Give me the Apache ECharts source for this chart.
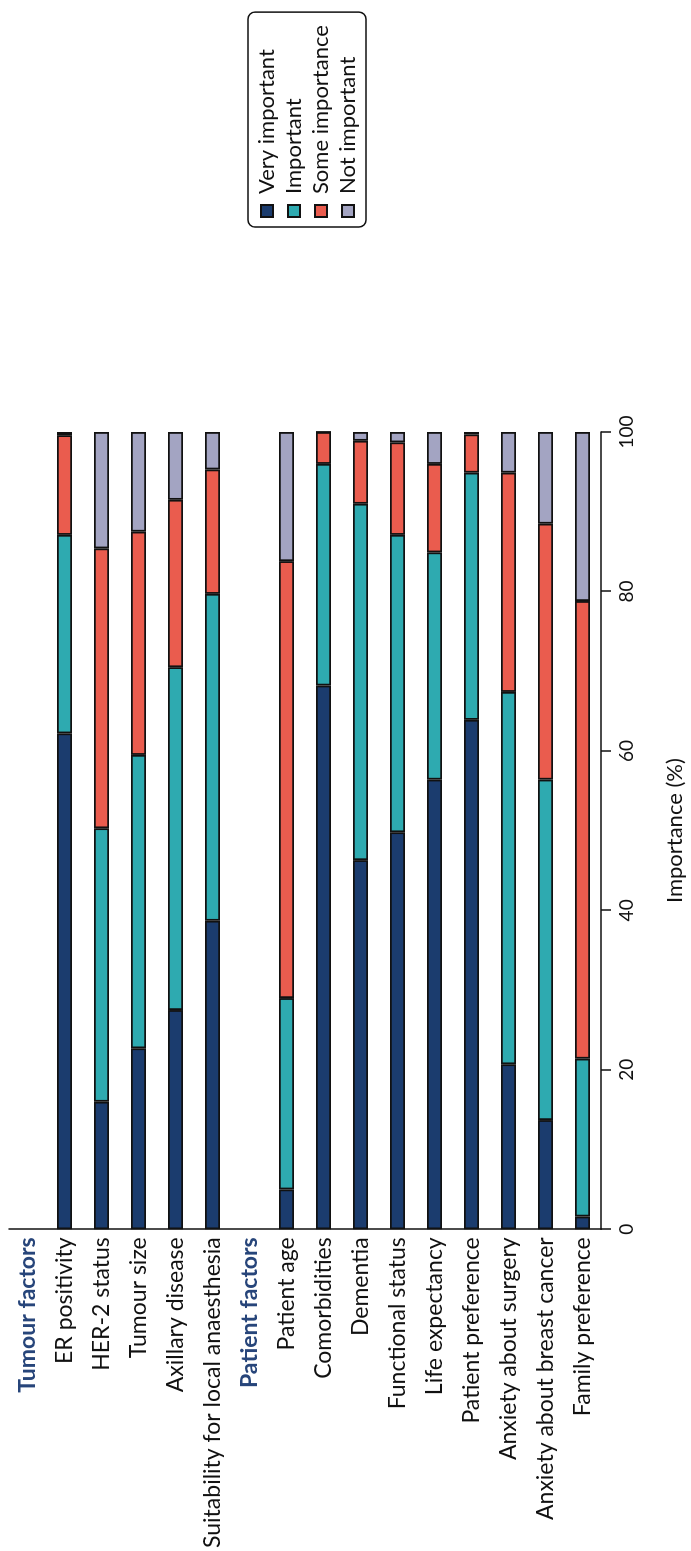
<!DOCTYPE html>
<html>
<head>
<meta charset="utf-8">
<script src="https://cdn.jsdelivr.net/npm/echarts@6/dist/echarts.min.js"></script>
<style>
html, body { margin: 0; padding: 0; background: #fff; overflow: hidden; width: 691px; height: 1551px; }
#wrap { position: absolute; left: 0; top: 0; width: 1551px; height: 691px;
  transform-origin: 0 0; transform: translate(0, 1551px) rotate(-90deg); }
</style>
</head>
<body>
<div id="wrap"></div>
<script>
const categories = ['Tumour factors', 'ER positivity', 'HER-2 status', 'Tumour size', 'Axillary disease',
  'Suitability for local anaesthesia', 'Patient factors', 'Patient age', 'Comorbidities', 'Dementia',
  'Functional status', 'Life expectancy', 'Patient preference', 'Anxiety about surgery',
  'Anxiety about breast cancer', 'Family preference'];
const headers = ['Tumour factors', 'Patient factors'];
const seriesNames = ['Very important', 'Important', 'Some importance', 'Not important'];
const veryImportant = [null, 62.2, 16.0, 22.7, 27.5, 38.7, null, 5.0, 68.2, 46.3, 49.8, 56.4, 63.9, 20.7, 13.7, 1.6];
const important     = [null, 24.9, 34.3, 36.8, 43.0, 41.0, null, 24.0, 27.8, 44.7, 37.3, 28.5, 31.0, 46.7, 42.7, 19.8];
const someImportance= [null, 12.5, 35.1, 28.0, 21.0, 15.6, null, 54.8, 4.0, 7.9, 11.6, 11.1, 4.8, 27.5, 32.1, 57.4];
const notImportant  = [null, 0.4, 14.6, 12.5, 8.5, 4.7, null, 16.2, 0.0, 1.1, 1.3, 4.0, 0.3, 5.1, 11.5, 21.2];
const valueTicks = [0, 20, 40, 60, 80, 100];

const colors = ['#1b3c6e', '#2eaab0', '#ea5c4e', '#a3a4c2'];
const seriesData = [veryImportant, important, someImportance, notImportant];

const chart = echarts.init(document.getElementById('wrap'), null, { renderer: 'canvas', width: 1551, height: 691 });
const FONT = 'Lato';
chart.setOption({
  animation: false,
  textStyle: { fontFamily: FONT },
  grid: { left: 319, right: 432, top: 9, bottom: 84, containLabel: false },
  legend: {
    orient: 'vertical',
    left: 1324, top: 248,
    padding: [8, 13, 7, 9],
    itemGap: 5,
    itemWidth: 12, itemHeight: 12,
    icon: 'rect',
    borderColor: '#111', borderWidth: 1.5, borderRadius: 7,
    textStyle: { fontFamily: FONT, fontSize: 22, color: '#111', padding: [0, 0, 0, 6] },
    data: seriesNames
  },
  xAxis: {
    type: 'value', min: 0, max: 100, interval: 20,
    splitLine: { show: false },
    axisLine: { show: true, lineStyle: { color: '#111', width: 1.5 } },
    axisTick: { show: true, length: 10, lineStyle: { color: '#111', width: 1.5 } },
    axisLabel: { fontFamily: FONT, fontSize: 19, color: '#111', margin: 16,
      formatter: v => valueTicks.includes(v) ? String(v) : '' },
    name: 'Importance (%)', nameLocation: 'middle', nameGap: 63,
    nameTextStyle: { fontFamily: FONT, fontSize: 22, color: '#111' }
  },
  yAxis: {
    type: 'category', data: categories, inverse: true,
    axisLine: { show: true, lineStyle: { color: '#111', width: 1.5 } },
    axisTick: { show: false },
    axisLabel: {
      fontFamily: FONT, fontSize: 23, color: '#111', margin: 8,
      formatter: v => headers.includes(v) ? '{h|' + v + '}' : v,
      rich: { h: { fontFamily: FONT, fontSize: 23, fontWeight: 'bold', color: '#27457a' } }
    }
  },
  series: seriesNames.map((n, i) => ({
    name: n, type: 'bar', stack: 'total', barWidth: 15,
    data: seriesData[i],
    itemStyle: { color: colors[i], borderColor: '#111', borderWidth: 1.8 }
  }))
});
</script>
</body>
</html>
